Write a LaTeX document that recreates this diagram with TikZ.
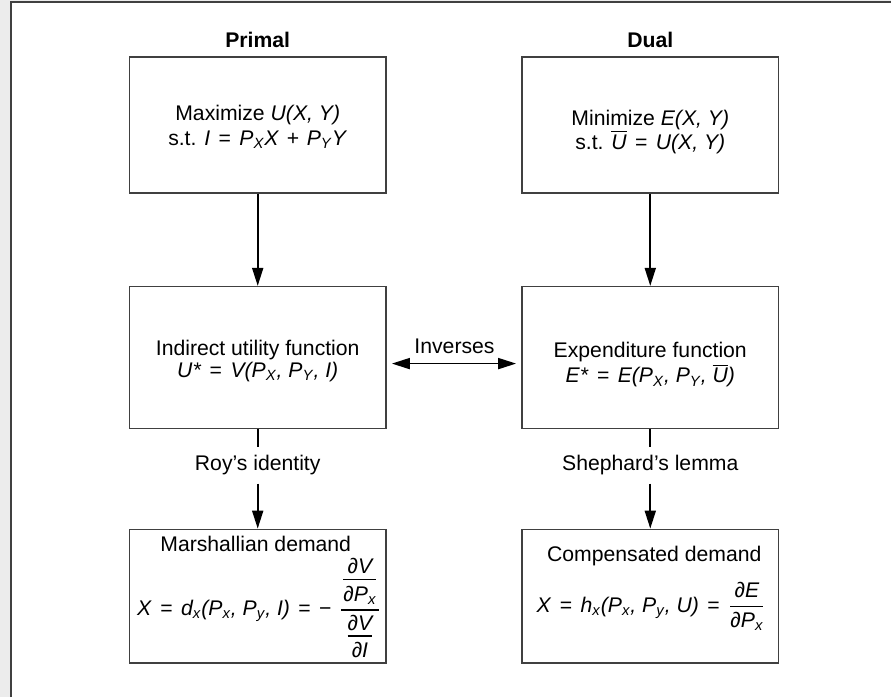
\documentclass[tikz,border=0pt]{standalone}
\usepackage{amsmath}
\usepackage{fontspec}
\setmainfont{Liberation Sans}
\usetikzlibrary{arrows.meta}
\newcommand\sbs[1]{\textsubscript{\itshape #1}}
\newcommand\ubar{$\overline{\mbox{\itshape U}}$}
\newcommand\pd[1]{\mbox{\itshape ∂#1}}
\newcommand\numst{\rule[-0.17em]{0pt}{0.17em}}
\newcommand\denst{\rule{0pt}{0.92em}}
\newcommand\eqs{\hspace{0.12em}=\hspace{0.12em}}
\newcommand\pls{\hspace{0.08em}+\hspace{0.08em}}
\definecolor{framegray}{HTML}{ECECEC}
\definecolor{edge}{HTML}{404040}
\begin{document}
\begin{tikzpicture}[x=0.5pt,y=-0.5pt,
  font=\fontsize{10.6}{12}\selectfont,
  box/.style={draw=edge, line width=0.8pt, minimum width=128.5pt, inner sep=0pt},
  txt/.style={align=center, inner sep=0pt},
  head/.style={font=\bfseries\fontsize{10.6}{12}\selectfont},
  conn/.style={line width=0.9pt, -{Triangle[length=9pt,width=5.5pt]}},
  plain/.style={line width=0.9pt},
  lbl/.style={inner sep=4pt}]
\fill[framegray] (0,0) rectangle (892,698);
\fill[white] (11.5,2.5) rectangle (892,698);
\draw[edge, line width=1pt] (11.5,698) -- (11.5,2.5) -- (892,2.5);
\useasboundingbox (0,0) rectangle (892,698);

\node[head] (primal) at (258,40) {Primal};
\node[head] (dual) at (651,40) {Dual};

% top boxes
\node[box, minimum height=68pt] (tl) at (258,125) {};
\node[txt, font=\fontsize{10.6}{12.2}\selectfont] (tlt) at (258,127)
  {Maximize \textit{U(X, Y)}\\ s.t. \textit{I} \eqs{} \textit{P\sbs{X}X} \pls{} \textit{P\sbs{Y}Y}};
\node[box, minimum height=68pt] (tr) at (651,125) {};
\node[txt, font=\fontsize{10.6}{12.2}\selectfont] (trt) at (651,132)
  {Minimize \textit{E(X, Y)}\\ s.t. \ubar{} \eqs{} \textit{U(X, Y)}};

% middle boxes
\node[box, minimum height=71pt] (ml) at (258,358) {};
\node[txt, font=\fontsize{10.6}{11}\selectfont] (mlt) at (258,361)
  {Indirect utility function\\ \textit{U*} \eqs{} \textit{V(P\sbs{X}, P\sbs{Y}, I)}};
\node[box, minimum height=71pt] (mr) at (651,358) {};
\node[txt, font=\fontsize{10.6}{11}\selectfont] (mrt) at (651,365)
  {Expenditure function\\ \textit{E*} \eqs{} \textit{E(P\sbs{X}, P\sbs{Y}, }\ubar\textit{)}};

% bottom boxes
\node[box, minimum height=67pt] (bl) at (258,597) {};
\node[box, minimum height=67pt] (br) at (651,597) {};

\node[txt] (blt) at (256,545) {Marshallian demand};
\node[txt] (blf) at (259.5,609)
  {\textit{X} \eqs{} \textit{d\sbs{x}(P\sbs{x}, P\sbs{y}, I)} \eqs{} −\,\,$\displaystyle\genfrac{}{}{0.75pt}{0}{\genfrac{}{}{0.75pt}{1}{\numst\pd{V}}{\denst\pd{P\sbs{x}}}}{\genfrac{}{}{0.75pt}{1}{\numst\pd{V}}{\denst\pd{I}}}$};

\node[txt] (brt) at (655,557) {Compensated demand};
\node[txt] (brf) at (652,607)
  {\textit{X} \eqs{} \textit{h\sbs{x}(P\sbs{x}, P\sbs{y}, U)} \eqs{} $\displaystyle\genfrac{}{}{0.75pt}{0}{\pd{E}}{\pd{P\sbs{x}}}$};

% connectors
\draw[conn] (tl) -- (ml);
\draw[conn] (tr) -- (mr);

\node (inv) at (455,347) {Inverses};
\draw[line width=0.9pt, {Triangle[length=9pt,width=5.5pt]}-{Triangle[length=9pt,width=5.5pt]}]
  ([xshift=2.5pt,yshift=-3pt]ml.east) -- ([xshift=-2.5pt,yshift=-3pt]mr.west);

\node[lbl] (roy) at (258,466) {Roy’s identity};
\draw[plain] (ml) -- (roy);
\draw[conn] (roy) -- (bl);

\node[lbl] (shep) at (651,466) {Shephard’s lemma};
\draw[plain] (mr) -- (shep);
\draw[conn] (shep) -- (br);
\end{tikzpicture}
\end{document}
